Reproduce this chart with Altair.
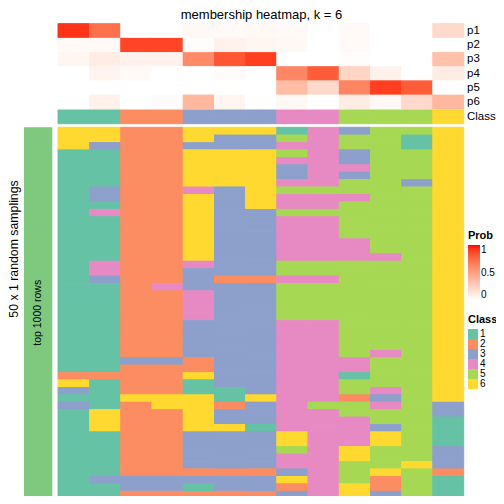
import altair as alt
import pandas as pd

# ---------------- data ----------------
samples = [f"s{i:02d}" for i in range(1, 14)]
prob_rows = ["p1", "p2", "p3", "p4", "p5", "p6"]
p1 = [0.93, 0.72, 0.00, 0.00, 0.04, 0.03, 0.04, 0.03, 0.00, 0.03, 0.00, 0.00, 0.20]
p2 = [0.03, 0.03, 0.88, 0.88, 0.01, 0.07, 0.05, 0.04, 0.00, 0.03, 0.00, 0.00, 0.00]
p3 = [0.05, 0.10, 0.07, 0.07, 0.60, 0.82, 0.90, 0.00, 0.00, 0.01, 0.00, 0.00, 0.33]
p4 = [0.00, 0.06, 0.03, 0.00, 0.00, 0.02, 0.00, 0.62, 0.80, 0.22, 0.07, 0.00, 0.10]
p5 = [0.00, 0.00, 0.00, 0.00, 0.00, 0.00, 0.00, 0.35, 0.20, 0.63, 0.90, 0.80, 0.00]
p6 = [0.00, 0.07, 0.00, 0.02, 0.38, 0.05, 0.00, 0.04, 0.00, 0.10, 0.04, 0.20, 0.38]
consensus_class = ["1", "1", "2", "2", "3", "3", "3", "4", "4", "5", "5", "5", "6"]

# class of each sample in each of the 50 random samplings (one string per sampling)
samplings = [
    "6622666143556", "6622633545516", "6322333445516", "1122666543556", "1122666443556",
    "1122666344556", "1122666343556", "1122666445536", "1322436555556", "1322636444556",
    "1122636445556", "1422633555556", "1122633445556", "1122633445556", "1122633445556",
    "1122633444556", "1122633444556", "1122633444456", "1422433555556", "1422333555556",
    "1322322445556", "1124333555556", "1122433555556", "1122433555556", "1122433555556",
    "1122433555556", "1122333445556", "1122333445556", "1122333445556", "1122333445556",
    "1122333445456", "1133233444556", "1122233444556", "2222633441556", "6122133445556",
    "3122113445456", "1166616442356", "3126623455453", "1622633445553", "1622633444551",
    "1622661444351", "1122333644651", "1122333644651", "1122333546553", "1122333446553",
    "1122333445563", "1122222345652", "1333333645251", "1133133246251", "1122222346351",
]
class_labels = ["1", "2", "3", "4", "5", "6"]
class_colors = ["#66C2A5", "#FC8D62", "#8DA0CB", "#E78AC3", "#A6D854", "#FFD92F"]
row_labels = prob_rows + ["Class"]
method = ["top 1000 rows"]
title_text = ["membership heatmap, k = 6"]
side_text = ["50 x 1 random samplings"]

# ---------------- tables ----------------
probs = [p1, p2, p3, p4, p5, p6]
prob_df = pd.DataFrame(
    [{"sample": s, "row": r, "prob": probs[i][j]}
     for i, r in enumerate(prob_rows) for j, s in enumerate(samples)]
)
class_df = pd.DataFrame({"sample": samples, "row": "Class", "cls": consensus_class})
samp_ids = [f"r{k:02d}" for k in range(len(samplings))]
samp_df = pd.DataFrame(
    [{"sample": s, "sampling": samp_ids[k], "cls": row[j]}
     for k, row in enumerate(samplings) for j, s in enumerate(samples)]
)
label_df = pd.DataFrame({"lab": row_labels})
annot_df = pd.DataFrame({"method": method})
title_df = pd.DataFrame({"t": title_text})
side_df = pd.DataFrame({"t": side_text})

FONT = "Liberation Sans"
HX = [50, 455.7]
PY = [15.7, 101.0]
CY = [102.0, 115.7]
BY = [119.3, 490.3]
AX = [16.0, 44.3]
SEAM = 1.0


def band(domain, rng):
    return alt.Scale(domain=domain, range=rng, paddingInner=0, paddingOuter=0)


def prob_scale():
    return alt.Scale(domain=[0, 1], range=["#ffffff", "#ff0000"], interpolate="lab")


def class_scale():
    return alt.Scale(domain=class_labels, range=class_colors)


xs = alt.X("sample:N", scale=band(samples, HX), axis=None)
y_prob = alt.Y("row:N", scale=band(prob_rows, PY), axis=None)
y_class = alt.Y("row:N", scale=band(["Class"], CY), axis=None)
y_samp = alt.Y("sampling:N", scale=band(samp_ids, BY), axis=None)

# same-coloured outlines drawn underneath the cells to hide anti-aliasing seams
prob_under = alt.Chart(prob_df).mark_rect(filled=False, strokeWidth=SEAM).encode(
    x=xs, y=y_prob, stroke=alt.Stroke("prob:Q", scale=prob_scale(), legend=None)
)
prob_layer = alt.Chart(prob_df).mark_rect().encode(
    x=xs,
    y=y_prob,
    color=alt.Color(
        "prob:Q",
        scale=prob_scale(),
        legend=alt.Legend(
            title="Prob", orient="none", legendX=460, legendY=222,
            direction="vertical", gradientLength=55, gradientThickness=12,
            gradientStrokeWidth=0, values=[0, 0.5, 1], format="~g", labelOffset=1,
            titleFontSize=11, labelFontSize=10, titlePadding=4,
        ),
    ),
)

class_under = alt.Chart(class_df).mark_rect(filled=False, strokeWidth=SEAM).encode(
    x=xs, y=y_class, stroke=alt.Stroke("cls:N", scale=class_scale(), legend=None)
)
class_layer = alt.Chart(class_df).mark_rect().encode(
    x=xs,
    y=y_class,
    color=alt.Color(
        "cls:N",
        scale=class_scale(),
        legend=alt.Legend(
            title="Class", orient="none", legendX=460, legendY=306,
            symbolType="square", symbolSize=100, symbolStrokeWidth=0,
            rowPadding=0, labelFontSize=10, titleFontSize=11, titlePadding=4,
            labelOffset=2,
        ),
    ),
)

samp_under = alt.Chart(samp_df).mark_rect(filled=False, strokeWidth=SEAM).encode(
    x=xs, y=y_samp, stroke=alt.Stroke("cls:N", scale=class_scale(), legend=None)
)
samp_layer = alt.Chart(samp_df).mark_rect().encode(
    x=xs,
    y=y_samp,
    color=alt.Color("cls:N", scale=class_scale(), legend=None),
)

label_layer = alt.Chart(label_df).mark_text(
    align="left", baseline="middle", fontSize=11.5, font=FONT, color="black"
).encode(
    text="lab:N",
    x=alt.value(459),
    y=alt.Y("lab:N", scale=band(row_labels, [15.7, 115.7]), axis=None),
)

annot_layer = alt.Chart(annot_df).mark_rect(color="#7FC97F").encode(
    x=alt.X("method:N", scale=band(method, AX), axis=None),
    y=alt.Y("method:N", scale=band(method, BY), axis=None),
)
annot_text = alt.Chart(annot_df).mark_text(
    angle=270, align="center", baseline="middle", fontSize=10.5, font=FONT, color="black"
).encode(
    text="method:N",
    x=alt.X("method:N", scale=band(method, AX), axis=None),
    y=alt.Y("method:N", scale=band(method, BY), axis=None),
)

title_layer = alt.Chart(title_df).mark_text(
    align="center", baseline="alphabetic", fontSize=13, font=FONT, color="black"
).encode(text="t:N", x=alt.value(253.5), y=alt.value(10.5))

side_layer = alt.Chart(side_df).mark_text(
    angle=270, align="center", baseline="middle", fontSize=12.3, font=FONT, color="black"
).encode(text="t:N", x=alt.value(6), y=alt.value(241))

chart = (
    alt.layer(
        prob_under, prob_layer, class_under, class_layer, samp_under, samp_layer,
        label_layer, annot_layer, annot_text, title_layer, side_layer,
    )
    .resolve_scale(x="independent", y="independent", color="independent", stroke="independent")
    .properties(width=488, height=488, autosize="none", padding=0)
    .configure_view(stroke=None)
    .configure_legend(titleFont=FONT, labelFont=FONT, titleColor="black", labelColor="black")
)

chart.save("out.html", embed_options={"renderer": "svg", "actions": False})
